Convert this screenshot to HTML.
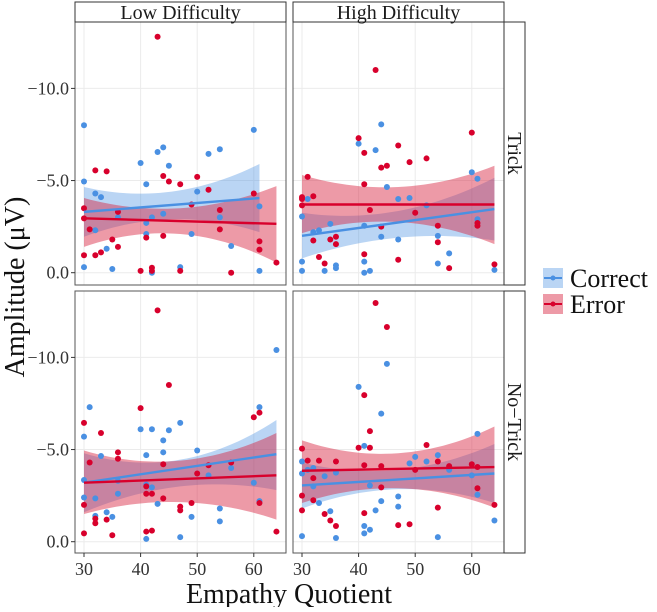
<!DOCTYPE html>
<html><head><meta charset="utf-8">
<style>
body{margin:0;background:#fff;}
svg text{font-family:"Liberation Serif",serif;}
</style></head>
<body>
<svg id="chart" width="657" height="607" xmlns="http://www.w3.org/2000/svg"></svg>
<script>
// ---- data ----
const panelNames = ["low-trick","high-trick","low-notrick","high-notrick"];
const colLabels = ["Low Difficulty","High Difficulty"];
const rowLabels = ["Trick","No\u2212Trick"];
const xTicks = [30,40,50,60];
const yTicks = [0,-5,-10];
const yTickLabels = ["0.0","\u22125.0","\u221210.0"];
const seriesNames = ["Correct","Error"];

const blueLT_x=[30,30,30,32,32,33,34,35,36,40,41,41,41,42,42,43,44,44,45,47,49,50,52,54,54,56,60,61,61];
const blueLT_y=[-8.0,-4.95,-0.3,-4.3,-2.3,-4.1,-1.3,-0.2,-3.0,-5.95,-4.8,-2.7,-2.1,-3.0,0,-6.55,-6.8,-3.2,-5.8,-0.3,-2.1,-4.4,-6.45,-6.7,-3.0,-1.45,-7.75,-3.6,-0.1];
const redLT_x=[30,30,30,31,32,32,33,34,35,36,36,40,41,42,42,43,44,44,45,47,47,49,50,52,54,54,56,60,61,61,64];
const redLT_y=[-3.5,-2.95,-0.95,-2.35,-5.55,-0.95,-1.1,-5.5,-1.8,-3.3,-1.4,-0.1,-1.9,-0.27,-0.1,-12.8,-5.25,-2.0,-4.95,-4.8,-0.1,-3.7,-5.2,-4.5,-3.4,-2.35,0,-4.3,-1.7,-1.25,-0.55];

const blueHT_x=[30,30,30,31,32,33,34,35,36,36,40,41,41,41,42,43,44,44,45,47,47,49,52,54,54,56,60,61,61,64];
const blueHT_y=[-3.05,-0.6,-0.1,-4.0,-2.2,-2.3,-0.1,-2.65,-0.4,-0.25,-7.0,-2.55,-0.6,0,-0.1,-6.65,-8.05,-1.95,-4.65,-4.0,-1.8,-4.05,-3.65,-2.0,-0.5,-1.05,-5.45,-5.1,-2.9,-0.15];
const redHT_x=[30,30,30,31,32,32,33,34,35,36,36,40,41,41,41,42,43,44,44,45,47,47,49,50,52,54,54,56,60,61,61,64];
const redHT_y=[-4.1,-4.0,-3.65,-5.2,-4.15,-1.75,-0.85,-0.5,-1.8,-1.95,-1.55,-7.3,-6.5,-4.8,-1.0,-3.4,-11.0,-5.7,-2.5,-5.8,-6.9,-0.7,-6.0,-3.25,-6.2,-2.55,-1.65,-0.25,-7.6,-2.7,-2.55,-0.45];

const blueLN_x=[30,30,30,31,32,32,33,34,35,36,36,40,41,41,41,42,42,43,44,44,45,47,47,49,50,52,54,54,56,60,61,61,64];
const blueLN_y=[-5.7,-3.35,-2.4,-7.3,-2.35,-1.4,-4.65,-1.6,-1.35,-3.3,-2.6,-6.1,-4.7,-3.1,-0.15,-6.1,-2.95,-2.05,-5.5,-4.85,-6.05,-6.45,-0.25,-1.35,-4.95,-3.6,-1.8,-1.1,-4.0,-3.2,-7.3,-2.2,-10.4];
const redLN_x=[30,30,30,31,32,32,33,34,35,36,36,40,41,41,41,42,42,43,44,44,45,47,47,49,50,52,56,60,61,61,64];
const redLN_y=[-6.45,-2.0,-0.45,-4.3,-1.25,-1.0,-5.9,-1.2,-0.35,-4.85,-4.5,-7.25,-3.0,-2.6,-0.55,-2.6,-0.6,-12.55,-4.2,-2.35,-8.5,-1.9,-1.7,-2.1,-3.7,-4.15,-4.3,-6.75,-7.0,-2.1,-0.55];

const blueHN_x=[30,30,30,31,32,32,33,34,35,36,36,40,41,41,41,42,42,43,44,44,45,47,47,49,50,52,54,54,56,60,61,61,64];
const blueHN_y=[-4.35,-3.7,-0.3,-3.9,-4.0,-3.0,-2.1,-3.55,-1.65,-3.75,-0.2,-8.4,-5.2,-0.85,-0.45,-3.05,-0.65,-1.7,-6.95,-2.2,-9.65,-2.45,-1.9,-4.25,-4.6,-4.35,-4.7,-0.25,-3.9,-3.6,-5.85,-2.55,-1.15];
const redHN_x=[30,30,30,31,32,32,33,34,35,36,36,40,41,41,41,42,42,43,44,44,45,47,49,50,52,54,54,56,60,61,61,64];
const redHN_y=[-5.05,-2.5,-1.7,-4.4,-3.45,-2.25,-4.4,-1.5,-1.15,-4.35,-0.85,-5.1,-7.95,-4.15,-1.55,-6.0,-5.1,-12.95,-4.1,-2.95,-11.65,-0.9,-0.95,-3.9,-5.25,-4.35,-1.85,-4.1,-4.2,-4.05,-2.9,-2.0];

// fit lines: [x0, y0, x1, y1]
const blueFit = [[30,-3.3,61,-4.05],[30,-2.0,64,-3.45],[30,-3.2,64,-4.75],[30,-3.05,64,-3.7]];
const redFit  = [[30,-2.95,64,-2.65],[30,-3.7,64,-3.7],[30,-3.2,64,-3.6],[30,-3.85,64,-4.05]];
// confidence bands at start, middle, end of fit range
const blueBandHi = [[-4.65,-4.4,-5.9],[-3.25,-3.35,-5.15],[-4.8,-4.45,-6.6],[-4.3,-3.9,-5.3]];
const blueBandLo = [[-1.95,-2.9,-2.2],[-0.78,-1.9,-1.75],[-1.6,-3.0,-2.8],[-1.8,-2.85,-2.1]];
const redBandHi  = [[-4.05,-3.5,-4.7],[-5.3,-4.65,-5.8],[-4.95,-4.4,-5.9],[-5.5,-4.8,-6.25]];
const redBandLo  = [[-1.4,-2.1,-0.55],[-2.15,-2.75,-1.55],[-1.5,-2.15,-1.2],[-2.1,-2.9,-1.85]];

const blueX=[blueLT_x,blueHT_x,blueLN_x,blueHN_x], blueY=[blueLT_y,blueHT_y,blueLN_y,blueHN_y];
const redX=[redLT_x,redHT_x,redLN_x,redHN_x], redY=[redLT_y,redHT_y,redLN_y,redHN_y];

// ---- layout ----
const NS="http://www.w3.org/2000/svg";
const svg=document.getElementById('chart');
const BLUE="#4a90e2", RED="#d8002c";
const colX=[75,293], PW=211, rowY=[22,291], PH=[263,262];
const zeroY=[272.7,541.7], PXU=18.43, PXX=5.66, xOff=9;
function mk(tag,attrs,parent){const e=document.createElementNS(NS,tag);for(const k in attrs)e.setAttribute(k,attrs[k]);(parent||svg).appendChild(e);return e;}
function sx(c,v){return colX[c]+xOff+(v-30)*PXX;}
function sy(r,v){return zeroY[r]+v*PXU;}
function quad(k,x0,x1,x){const xm=(x0+x1)/2;const t0=(x-xm)*(x-x1)/((x0-xm)*(x0-x1)),t1=(x-x0)*(x-x1)/((xm-x0)*(xm-x1)),t2=(x-x0)*(x-xm)/((x1-x0)*(x1-xm));return k[0]*t0+k[1]*t1+k[2]*t2;}

for(let p=0;p<4;p++){
  const c=p%2, r=Math.floor(p/2);
  const g=mk('g',{});
  
  
  mk('rect',{x:colX[c],y:rowY[r],width:PW,height:PH[r],fill:'#fff'},g);
  xTicks.forEach(t=>{const l=mk('line',{x1:sx(c,t),x2:sx(c,t),y1:rowY[r],y2:rowY[r]+PH[r],stroke:'#ebebeb','stroke-width':1},g);});
  yTicks.forEach(t=>{const l=mk('line',{x1:colX[c],x2:colX[c]+PW,y1:sy(r,t),y2:sy(r,t),stroke:'#ebebeb','stroke-width':1},g);});
  const bands=[[blueBandHi[p],blueBandLo[p],blueFit[p],'rgba(74,144,226,0.38)','band-correct'],[redBandHi[p],redBandLo[p],redFit[p],'rgba(214,30,60,0.45)','band-error']];
  bands.forEach(b=>{
    const x0=b[2][0],x1=b[2][2];let pts=[];
    for(let i=0;i<=30;i++){const x=x0+(x1-x0)*i/30;pts.push(sx(c,x)+','+sy(r,quad(b[0],x0,x1,x)));}
    for(let i=30;i>=0;i--){const x=x0+(x1-x0)*i/30;pts.push(sx(c,x)+','+sy(r,quad(b[1],x0,x1,x)));}
    const e=mk('polygon',{points:pts.join(' '),fill:b[3]},g);
    
    
  });
  [[blueX[p],blueY[p],BLUE,'point-correct'],[redX[p],redY[p],RED,'point-error']].forEach(s=>{
    s[0].forEach((x,i)=>{const e=mk('circle',{cx:sx(c,x),cy:sy(r,s[1][i]),r:3,fill:s[2]},g);
      
      });
  });
  [[blueFit[p],BLUE,'fit-line-correct'],[redFit[p],RED,'fit-line-error']].forEach(f=>{
    const e=mk('line',{x1:sx(c,f[0][0]),y1:sy(r,f[0][1]),x2:sx(c,f[0][2]),y2:sy(r,f[0][3]),stroke:f[1],'stroke-width':2.4},g);
    
    
  });
  mk('rect',{x:colX[c],y:rowY[r],width:PW,height:PH[r],fill:'none',stroke:'#555','stroke-width':1},g);
}
colLabels.forEach((t,c)=>{
  const g=mk('g',{});
  mk('rect',{x:colX[c],y:2,width:PW,height:20,fill:'#fff',stroke:'#333','stroke-width':1},g);
  const e=mk('text',{x:colX[c]+PW/2,y:19,'text-anchor':'middle','font-size':20,fill:'#1a1a1a'},g);e.textContent=t;
});
rowLabels.forEach((t,r)=>{
  const g=mk('g',{});
  mk('rect',{x:504,y:rowY[r],width:21,height:PH[r],fill:'#fff',stroke:'#333','stroke-width':1},g);
  const cy=rowY[r]+PH[r]/2;
  const e=mk('text',{x:508,y:cy,'text-anchor':'middle','font-size':20,fill:'#1a1a1a',transform:'rotate(90 508 '+cy+')'},g);e.textContent=t;
});
for(let r=0;r<2;r++){yTicks.forEach((t,i)=>{
  mk('line',{x1:71,x2:75,y1:sy(r,t),y2:sy(r,t),stroke:'#333'});
  const e=mk('text',{x:69,y:sy(r,t)+6,'text-anchor':'end','font-size':18,fill:'#333'});
  e.textContent=yTickLabels[i];
});}
for(let c=0;c<2;c++){xTicks.forEach(t=>{
  mk('line',{x1:sx(c,t),x2:sx(c,t),y1:553,y2:557,stroke:'#333'});
  const e=mk('text',{x:sx(c,t),y:575,'text-anchor':'middle','font-size':18,fill:'#333'});
  e.textContent=t;
});}
let xt=mk('text',{x:289,y:603,'text-anchor':'middle','font-size':28,fill:'#111'});
xt.textContent='Empathy Quotient';
let yt=mk('text',{x:0,y:0,'text-anchor':'middle','font-size':28,fill:'#111',transform:'translate(24 287) rotate(-90)'});
yt.textContent='Amplitude (\u03bcV)';
[[BLUE,'rgba(74,144,226,0.38)',268],[RED,'rgba(214,30,60,0.45)',294]].forEach((L,i)=>{
  const g=mk('g',{});
  mk('rect',{x:543,y:L[2],width:20,height:20,fill:L[1]},g);
  mk('line',{x1:544,x2:562,y1:L[2]+10,y2:L[2]+10,stroke:L[0],'stroke-width':2},g);
  mk('circle',{cx:553,cy:L[2]+10,r:2.5,fill:L[0]},g);
  const e=mk('text',{x:570,y:L[2]+19,'font-size':26,fill:'#111'},g);e.textContent=seriesNames[i];
});
</script>
</body></html>
